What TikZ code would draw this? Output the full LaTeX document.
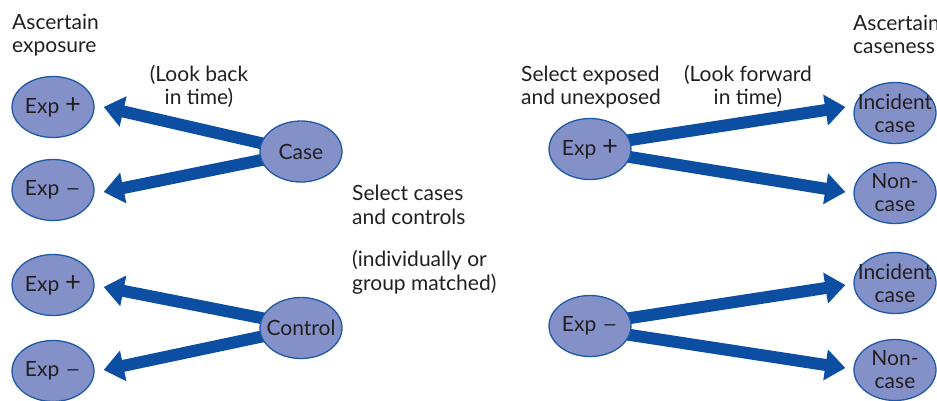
\documentclass[tikz,border=0pt]{standalone}
\usepackage{fontspec}
\setmainfont{Lato}
\usetikzlibrary{shapes.geometric,arrows.meta,calc,backgrounds}
\definecolor{ellfill}{HTML}{8490C8}
\definecolor{elldraw}{HTML}{1F5AA8}
\definecolor{arrblue}{HTML}{0B4EA2}
\definecolor{txt}{HTML}{231F20}
\newcommand{\expplus}{Exp\hspace{0.28em}\scalebox{1.3}{+}}
\newcommand{\expminus}{Exp\hspace{0.28em}\scalebox{1.3}[1]{--}}
\tikzset{
  ell/.style={ellipse, draw=elldraw, line width=1.3pt, fill=ellfill,
    minimum width=82pt, minimum height=61pt, inner sep=0pt},
  etxt/.style={align=center, text=txt, font=\fontsize{21}{23}\selectfont, inner sep=0pt},
  lbl/.style={align=left, text=txt, font=\fontsize{21}{23.5}\selectfont, inner sep=0pt},
  clbl/.style={align=center, text=txt, font=\fontsize{21}{23.5}\selectfont, inner sep=0pt},
  arr/.style={draw=arrblue, line width=12pt, -{Triangle[length=20pt,width=30pt]}, fill=arrblue},
}
\begin{document}
\begin{tikzpicture}[x=1pt,y=-1pt]
\useasboundingbox (0,0) rectangle (937,400);
% ellipses
\node[ell, label={[etxt]center:\expplus}] (le1) at (53,107) {};
\node[ell, label={[etxt]center:\expminus}] (le2) at (53,190) {};
\node[ell, label={[etxt]center:Case}] (case) at (301,151.5) {};
\node[ell, label={[etxt]center:\expplus}] (le3) at (53,285) {};
\node[ell, label={[etxt]center:\expminus}] (le4) at (53,371) {};
\node[ell, label={[etxt]center:Control}] (ctrl) at (301,328) {};
\node[ell, label={[etxt]center:\expplus}] (re1) at (590,149) {};
\node[ell, label={[etxt]center:\expminus}] (re2) at (590,326) {};
\node[ell, label={[etxt]center:Incident\\case}] (ri1) at (895,113) {};
\node[ell, label={[etxt]center:Non-\\case}] (rn1) at (895,193) {};
\node[ell, label={[etxt]center:Incident\\case}] (ri2) at (895,283) {};
\node[ell, label={[etxt]center:Non-\\case}] (rn2) at (895,370) {};
% arrows
\begin{scope}[on background layer]
\draw[arr] ($(case.west)+(12,-6)$) -- ($(le1.east)+(9,0)$);
\draw[arr] ($(case.west)+(12,6.5)$) -- ($(le2.east)+(9,2)$);
\draw[arr] ($(ctrl.west)+(12,-8)$) -- ($(le3.east)+(9,2)$);
\draw[arr] ($(ctrl.west)+(12,6.5)$) -- ($(le4.east)+(9,-1)$);
\draw[arr] ($(re1.east)+(-11,-7.5)$) -- ($(ri1.west)+(-8,-6)$);
\draw[arr] ($(re1.east)+(-11,6.5)$) -- ($(rn1.west)+(-8,-1)$);
\draw[arr] ($(re2.east)+(-11,-6.5)$) -- ($(ri2.west)+(-8,2)$);
\draw[arr] ($(re2.east)+(-11,7.5)$) -- ($(rn2.west)+(-8,-2)$);
\end{scope}
% labels (base anchor = baseline of the last line)
\node[lbl, anchor=base west] (t1) at (12,52.5) {Ascertain\\exposure};
\node[clbl, anchor=base] (t2) at (199,104.5) {(Look back\\in time)};
\node[lbl, anchor=base west] (t3) at (352,224) {Select cases\\and controls};
\node[lbl, anchor=base west] (t4) at (352,290) {(individually or\\group matched)};
\node[lbl, anchor=base west] (t5) at (521,104.5) {Select exposed\\and unexposed};
\node[clbl, anchor=base] (t6) at (748,104.5) {(Look forward\\in time)};
\node[lbl, anchor=base west] (t7) at (853,53.5) {Ascertain\\caseness};
\end{tikzpicture}
\end{document}
